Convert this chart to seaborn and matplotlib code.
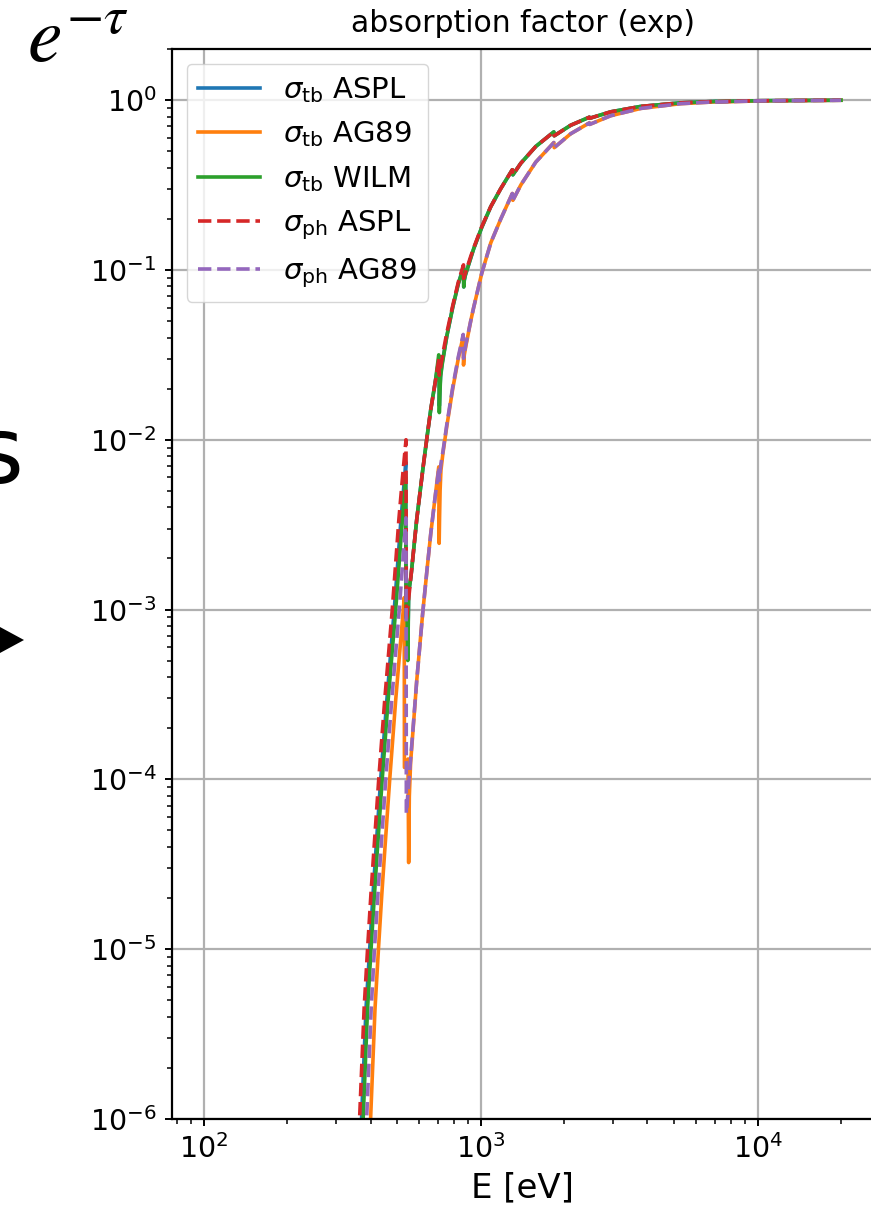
import numpy as np
import pandas as pd
import matplotlib
matplotlib.use("Agg")
import matplotlib.pyplot as plt
from matplotlib.patches import Polygon
from matplotlib.ticker import LogLocator, NullFormatter
import seaborn as sns

# ---------------------------------------------------------------------------
# Absorption factor exp(-tau) versus photon energy.
# Energies in eV; transmissions stored as log10(exp(-tau)).
# ---------------------------------------------------------------------------

# soft band (edges of O, Fe-L, Ne), one array pair per model
E_TB_ASPL = [338, 371, 385, 397, 408, 418, 435, 458, 487, 515, 532, 536, 537.5, 541, 545,
             549, 560, 587, 617, 640, 660, 685, 705, 707, 708.5, 711, 716, 725, 754, 792,
             830, 866, 868, 872, 880, 920, 943, 1008]
LOGT_TB_ASPL = [-8, -6, -5.35, -5.0, -4.68, -4.42, -4.0, -3.53, -3.0, -2.47, -2.2, -2.13, -3.0,
                -2.92, -3.22, -2.9, -2.80, -2.47, -2.18, -1.98, -1.82, -1.66, -1.53, -1.55,
                -1.80, -1.72, -1.62, -1.55, -1.39, -1.22, -1.08, -0.98, -1.10, -1.06, -1.03,
                -0.93, -0.875, -0.75]

E_TB_AG89 = [364, 400, 415, 427, 439, 450, 469, 493, 525, 529, 530, 546, 549, 552, 558, 587,
             617, 640, 660, 685, 705, 707.5, 710, 713, 718, 730, 754, 792, 830, 864, 866.5,
             872, 883, 920, 943, 1008]
LOGT_TB_AG89 = [-8, -6, -5.35, -5.0, -4.68, -4.42, -4.0, -3.53, -3.0, -2.93, -3.93, -3.88,
                -4.49, -4.1, -3.9, -3.42, -3.02, -2.76, -2.55, -2.33, -2.16, -2.61, -2.45,
                -2.3, -2.18, -2.08, -1.92, -1.70, -1.52, -1.39, -1.56, -1.50, -1.45, -1.30,
                -1.22, -1.02]

E_TB_WILM = [342, 376, 390, 401.5, 413, 423, 440.6, 463, 493, 521, 535, 537.5, 541, 545, 549,
             560, 587, 617, 640, 660, 685, 705, 707, 708.5, 711, 716, 725, 754, 792, 830, 866,
             868, 872, 880, 920, 943, 1008]
LOGT_TB_WILM = [-8, -6, -5.35, -5.0, -4.68, -4.42, -4.0, -3.53, -3.0, -2.47, -2.22, -3.05,
                -2.95, -3.3, -2.9, -2.80, -2.47, -2.18, -1.98, -1.82, -1.66, -1.50, -1.55,
                -1.84, -1.75, -1.63, -1.56, -1.39, -1.22, -1.08, -0.99, -1.10, -1.06, -1.03,
                -0.93, -0.875, -0.75]

E_PH_ASPL = [332, 365, 379, 390, 401, 411, 428, 450, 479, 506, 523, 537, 538.5, 560, 587, 617,
             640, 660, 685, 706.5, 708, 730, 754, 792, 830, 866, 867.5, 883, 920, 943, 1008]
LOGT_PH_ASPL = [-8, -6, -5.35, -5.0, -4.68, -4.42, -4.0, -3.53, -3.0, -2.47, -2.2, -2.0, -3.07,
                -2.80, -2.47, -2.18, -1.98, -1.82, -1.66, -1.52, -1.62, -1.49, -1.37, -1.21,
                -1.07, -0.97, -1.05, -1.01, -0.92, -0.87, -0.745]

E_PH_AG89 = [352, 387, 402, 413, 425, 435.6, 453.6, 477, 507.7, 537, 538.5, 560, 587, 617, 640,
             660, 685, 706.5, 708, 718, 730, 754, 792, 830, 864, 866.5, 883, 920, 943, 1008]
LOGT_PH_AG89 = [-8, -6, -5.35, -5.0, -4.68, -4.42, -4.0, -3.53, -3.0, -2.46, -4.2, -3.85, -3.42,
                -3.02, -2.76, -2.55, -2.33, -2.16, -2.24, -2.14, -2.07, -1.91, -1.69, -1.51,
                -1.38, -1.52, -1.44, -1.30, -1.22, -1.02]

# hard band (Mg, Si, S, Fe-K edges)
E_HARD = [1087, 1181, 1300, 1306, 1395, 1580, 1836, 1842, 2113, 2468, 2474, 2946, 3782, 5272,
          7100, 7115, 10250, 20000]
LOGT_HARD_SOLAR = [-0.627, -0.521, -0.41, -0.44, -0.372, -0.273, -0.187, -0.21, -0.148,
                   -0.1005, -0.107, -0.069, -0.037, -0.016, -0.0074, -0.0085, -0.0033, -0.0006]
LOGT_HARD_AG89 = [-0.84, -0.70, -0.55, -0.59, -0.50, -0.365, -0.25, -0.28, -0.198, -0.134,
                  -0.143, -0.092, -0.049, -0.021, -0.0098, -0.0113, -0.0044, -0.0008]

LABELS = [r"$\sigma_{\rm tb}$ ASPL", r"$\sigma_{\rm tb}$ AG89", r"$\sigma_{\rm tb}$ WILM",
          r"$\sigma_{\rm ph}$ ASPL", r"$\sigma_{\rm ph}$ AG89"]
COLORS = ["#1f77b4", "#ff7f0e", "#2ca02c", "#d62728", "#9467bd"]
STYLES = ["-", "-", "-", "--", "--"]

SOFT = [(E_TB_ASPL, LOGT_TB_ASPL, LOGT_HARD_SOLAR),
        (E_TB_AG89, LOGT_TB_AG89, LOGT_HARD_AG89),
        (E_TB_WILM, LOGT_TB_WILM, LOGT_HARD_SOLAR),
        (E_PH_ASPL, LOGT_PH_ASPL, LOGT_HARD_SOLAR),
        (E_PH_AG89, LOGT_PH_AG89, LOGT_HARD_AG89)]

frames = []
for label, (e_soft, lt_soft, lt_hard) in zip(LABELS, SOFT):
    energy = list(e_soft) + E_HARD
    log_t = np.array(list(lt_soft) + list(lt_hard), dtype=float)
    frames.append(pd.DataFrame({"E": energy, "T": 10.0 ** log_t, "model": label}))
data = pd.concat(frames, ignore_index=True)

# ---------------------------------------------------------------------------
W, H = 871, 1210
fig = plt.figure(figsize=(W / 100, H / 100), dpi=100)
ax = fig.add_axes([172 / W, 1 - 1119 / H, (873 - 172) / W, (1119 - 49) / H])

for label, color, ls in zip(LABELS, COLORS, STYLES):
    sub = data[data["model"] == label]
    sns.lineplot(data=sub, x="E", y="T", ax=ax, color=color, linestyle=ls,
                 linewidth=2.6, sort=False, estimator=None, label=label)

ax.set_xscale("log")
ax.set_yscale("log")
ax.set_xlim(76.7, 26100)
ax.set_ylim(1e-6, 2.0)

ax.yaxis.set_major_locator(LogLocator(base=10, numticks=20))
ax.yaxis.set_minor_locator(LogLocator(base=10, subs=np.arange(2, 10), numticks=100))
ax.yaxis.set_minor_formatter(NullFormatter())
ax.xaxis.set_minor_locator(LogLocator(base=10, subs=np.arange(2, 10), numticks=100))
ax.xaxis.set_minor_formatter(NullFormatter())

ax.grid(True, which="major", color="#b0b0b0", linewidth=1.6)
ax.set_axisbelow(True)
for sp in ax.spines.values():
    sp.set_linewidth(1.6)
    sp.set_color("black")
ax.tick_params(which="major", length=5.2, width=1.4, labelsize=20.5, pad=6, colors="black")
ax.tick_params(which="minor", length=3.6, width=1.1)

ax.set_title("absorption factor (exp)", fontsize=21.5, pad=12)
ax.set_xlabel("E [eV]", fontsize=24.5, labelpad=5)
ax.set_ylabel("")

ax.legend(loc="upper left", fontsize=21, handlelength=2.1, framealpha=0.8,
          borderaxespad=0.5)

# side annotations
fig.text(27 / W, 1 - 62 / H, r"$e^{-\tau}$", fontsize=56, ha="left", va="baseline",
         math_fontfamily="stix", color="black")
fig.text(24 / W, 1 - 483 / H, "s", fontsize=66, ha="right", va="baseline", color="black")
tri = np.array([[-10, 621.6], [24, 640], [-10, 658.4]])
fig.patches.append(Polygon(np.column_stack([tri[:, 0] / W, 1 - tri[:, 1] / H]),
                           closed=True, facecolor="black", edgecolor="none",
                           transform=fig.transFigure, figure=fig))

fig.savefig("out.png", dpi=100)
